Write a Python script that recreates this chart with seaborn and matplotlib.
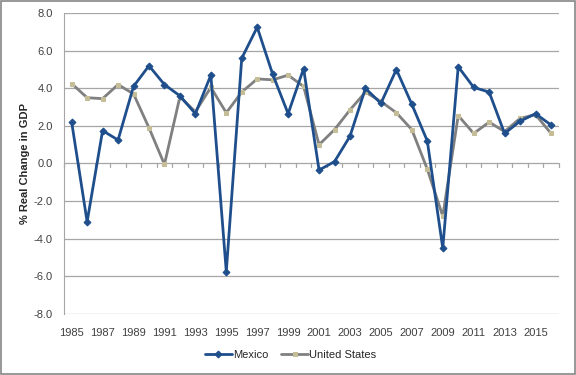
import numpy as np
import pandas as pd
import seaborn as sns
import matplotlib.pyplot as plt
from matplotlib.patches import Rectangle

# data
years = list(range(1985, 2017))
mexico = [2.2, -3.1, 1.75, 1.25, 4.1, 5.2, 4.2, 3.6, 2.65, 4.7,
          -5.75, 5.6, 7.25, 4.75, 2.65, 5.05, -0.35, 0.1, 1.45, 4.0,
          3.2, 5.0, 3.15, 1.2, -4.5, 5.15, 4.05, 3.8, 1.6, 2.25,
          2.65, 2.05]
usa = [4.25, 3.5, 3.45, 4.2, 3.7, 1.9, -0.05, 3.55, 2.75, 4.05,
       2.7, 3.8, 4.5, 4.45, 4.7, 4.1, 1.0, 1.8, 2.85, 3.8,
       3.3, 2.7, 1.8, -0.3, -2.8, 2.55, 1.6, 2.2, 1.7, 2.4,
       2.6, 1.6]

df = pd.DataFrame({"pos": np.arange(len(years)), "Mexico": mexico, "United States": usa})

sns.set_style("white")
plt.rcParams["font.family"] = ["Liberation Sans", "DejaVu Sans"]

fig = plt.figure(figsize=(5.76, 3.75), dpi=100)
ax = fig.add_axes([0.111, 0.163, 0.859, 0.802])

# grid lines (Excel style)
for v in np.arange(-8, 9, 2):
    ax.axhline(v, color="#a6a6a6", lw=0.9, zorder=0)

sns.lineplot(data=df, x="pos", y="Mexico", ax=ax, color="#1f4e8c", lw=2.0,
             marker="D", markersize=3.5, markeredgecolor="#1f4e8c", label="Mexico", zorder=3)
sns.lineplot(data=df, x="pos", y="United States", ax=ax, color="#808080", lw=2.0,
             marker="s", markersize=3, markerfacecolor="#c4bd97", markeredgecolor="#c4bd97",
             label="United States", zorder=2)

ax.set_xlim(-0.5, len(years) - 0.5)
ax.set_ylim(-8, 8)
ax.set_yticks(np.arange(-8, 9, 2))
ax.set_yticklabels([f"{v:.1f}" for v in np.arange(-8, 9, 2)], fontsize=8, color="#404040")
ax.set_xticks(np.arange(0, len(years), 2))
ax.set_xticklabels([str(y) for y in years[::2]], fontsize=8, color="#404040")
ax.tick_params(axis="x", length=0, pad=10)
ax.tick_params(axis="y", length=4, color="#a6a6a6", direction="out", pad=4)
ax.set_xlabel("")
ax.set_ylabel("% Real Change in GDP", fontsize=8, fontweight="bold", labelpad=3)

for s in ["top", "right", "bottom"]:
    ax.spines[s].set_visible(False)
ax.spines["left"].set_color("#a6a6a6")

# category tick marks on the zero line
for b in np.arange(-0.5, len(years), 1):
    ax.plot([b, b], [0, -0.2], color="#a6a6a6", lw=0.9, zorder=1, clip_on=False)

ax.legend(loc="center", bbox_to_anchor=(0.458, -0.137), ncol=2, frameon=False,
          fontsize=8, handlelength=2.4, handletextpad=0.1, columnspacing=1.2)

fig.patches.append(Rectangle((0.002, 0.003), 0.996, 0.994, transform=fig.transFigure,
                             fill=False, edgecolor="#868686", lw=1.2))

fig.savefig("out.png", dpi=100)
